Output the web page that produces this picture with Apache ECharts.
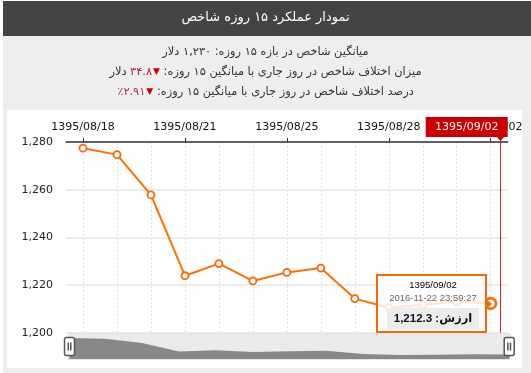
<!DOCTYPE html>
<html>
<head>
<meta charset="utf-8">
<script src="https://cdn.jsdelivr.net/npm/echarts@6.0.0/dist/echarts.min.js"></script>
<style>
  html, body { margin: 0; padding: 0; background: #fff; width: 531px; height: 373px; overflow: hidden; }
  .abs { position: absolute; }
</style>
</head>
<body>
<div class="abs" style="left:3px;top:1px;width:528px;height:372px;background:#eeeeee"></div>
<div class="abs" style="left:3px;top:1px;width:528px;height:35px;background:#444444"></div>
<div class="abs" style="left:7px;top:110px;width:515px;height:258px;background:#ffffff"></div>
<div id="chart" class="abs" style="left:0;top:0;width:531px;height:373px"></div>
<script>
// ---- data ----
const categories = ['1395/08/18','1395/08/19','1395/08/20','1395/08/21','1395/08/23','1395/08/24','1395/08/25','1395/08/26','1395/08/27','1395/08/28','1395/08/30','1395/09/01','1395/09/02'];
const values = [1277.4, 1274.7, 1257.8, 1223.9, 1229.0, 1221.7, 1225.3, 1227.1, 1214.3, 1210.5, 1211.7, 1213.0, 1212.3];
const yTicks = [1200, 1220, 1240, 1260, 1280];
const tooltipTime = '2016-11-22 23:59:27';
const titleText = 'نمودار عملکرد ۱۵ روزه شاخص';
const line1Text = 'میانگین شاخص در بازه ۱۵ روزه: ۱,۲۳۰ دلار';
const line2Label = 'میزان اختلاف شاخص در روز جاری با میانگین ۱۵ روزه:';
const line2Value = '۳۴.۸';
const line2Unit = 'دلار';
const line3Label = 'درصد اختلاف شاخص در روز جاری با میانگین ۱۵ روزه:';
const line3Value = '٪۲.۹۱';
const valueLabel = 'ارزش:';
const highlightIndex = 12;

const RLE = '\u202B', PDF = '\u202C';
const persianFont = 'DejaVu Sans';
const latinFont = 'DejaVu Sans';
const infoSize = 11.4;

const chart = echarts.init(document.getElementById('chart'), null, { renderer: 'canvas' });

function richStyles(valueColor) {
  return {
    a: { color: '#333333', fontFamily: persianFont, fontSize: infoSize, fontWeight: 'normal', lineHeight: 16 },
    r: { color: valueColor, fontFamily: persianFont, fontSize: infoSize, fontWeight: 'normal', lineHeight: 16 },
    t: { color: '#d00000', fontFamily: persianFont, fontSize: 9, fontWeight: 'normal', lineHeight: 16, padding: [0, 0, 0, 1] }
  };
}

const option = {
  animation: false,
  backgroundColor: 'transparent',
  title: [
    {
      text: RLE + titleText + PDF,
      left: 'center', top: 9, padding: 0,
      textStyle: { color: '#ffffff', fontFamily: persianFont, fontSize: 13, fontWeight: 'normal', lineHeight: 17 }
    },
    {
      text: RLE + line1Text + PDF,
      left: 'center', top: 44, padding: 0,
      textStyle: { color: '#333333', fontFamily: persianFont, fontSize: infoSize, fontWeight: 'normal', lineHeight: 16 }
    },
    {
      text: '{a|' + line2Unit + ' }{r|' + line2Value + '}{t|▼}{a| ' + RLE + line2Label + PDF + '}',
      left: 'center', top: 64, padding: 0,
      textStyle: { fontWeight: 'normal', fontFamily: persianFont, fontSize: infoSize, rich: richStyles('#c0143c') }
    },
    {
      text: '{r|' + line3Value + '}{t|▼}{a| ' + RLE + line3Label + PDF + '}',
      left: 'center', top: 84, padding: 0,
      textStyle: { fontWeight: 'normal', fontFamily: persianFont, fontSize: infoSize, rich: richStyles('#b03060') }
    }
  ],
  grid: { left: 66, right: 23.3, top: 142, bottom: 40.3, containLabel: false, outerBoundsMode: 'none' },
  xAxis: {
    type: 'category',
    position: 'top',
    data: categories,
    boundaryGap: true,
    axisLine: { show: true, lineStyle: { color: '#333333', width: 1.5 } },
    axisTick: { show: true, alignWithLabel: true, interval: 2, length: 4, lineStyle: { color: '#333333', width: 1 } },
    axisLabel: { interval: 2, color: '#111111', fontFamily: latinFont, fontSize: 11, margin: 9, hideOverlap: false },
    splitLine: { show: true, interval: 0, alignWithLabel: true, lineStyle: { type: [2, 2], color: '#e2e2e2', width: 1 } }
  },
  yAxis: {
    type: 'value',
    min: yTicks[0],
    max: yTicks[yTicks.length - 1],
    interval: yTicks[1] - yTicks[0],
    axisLine: { show: false },
    axisTick: { show: false },
    axisLabel: {
      color: '#222222', fontFamily: latinFont, fontSize: 11, margin: 13,
      formatter: v => v.toLocaleString('en-US')
    },
    splitLine: { show: true, lineStyle: { color: '#e6e6e6', width: 1.5 } }
  },
  dataZoom: [{
    type: 'slider',
    xAxisIndex: 0,
    start: 0, end: 100,
    left: 66, right: 23.3, bottom: 13, height: 27,
    showDetail: false,
    brushSelect: false,
    moveHandleSize: 0,
    backgroundColor: '#ebebeb',
    fillerColor: 'rgba(0,0,0,0)',
    borderColor: '#e4e4e4',
    borderRadius: 0,
    dataBackground: { lineStyle: { opacity: 0 }, areaStyle: { color: '#888888', opacity: 1 } },
    selectedDataBackground: { lineStyle: { opacity: 0 }, areaStyle: { color: '#888888', opacity: 1 } },
    handleIcon: 'path://M2,0H8Q10,0,10,2V16Q10,18,8,18H2Q0,18,0,16V2Q0,0,2,0Z M3.7,5V13 M6.3,5V13',
    handleSize: 18,
    handleStyle: { color: '#ffffff', borderColor: '#555555', borderWidth: 1.5 },
    emphasis: { handleStyle: { color: '#ffffff', borderColor: '#555555', borderWidth: 1.5 } }
  }],
  tooltip: {
    show: true,
    trigger: 'item',
    triggerOn: 'none',
    alwaysShowContent: true,
    transitionDuration: 0,
    backgroundColor: 'rgba(255,255,255,0.82)',
    borderColor: '#ff6600',
    borderWidth: 2,
    borderRadius: 0,
    padding: [2, 6, 2, 9],
    extraCssText: 'box-shadow:none;overflow:visible;',
    position: function (point, params, dom, rect, size) {
      return [point[0] - size.contentSize[0] - 4, point[1] - size.contentSize[1] / 2];
    },
    formatter: function (p) {
      const v = values[p.dataIndex].toLocaleString('en-US', { minimumFractionDigits: 1, maximumFractionDigits: 1 });
      return '<div style="font:9.5px \'Liberation Sans\';line-height:13px;text-align:center;color:#000">' + categories[p.dataIndex] + '</div>' +
        '<div style="font:9.5px \'Liberation Sans\';line-height:13px;text-align:center;color:#666">' + tooltipTime + '</div>' +
        '<div dir="rtl" style="width:92px;margin-top:4px;background:#ececec;padding:3px 0;text-align:center;font:bold 11.5px \'Liberation Sans\',\'DejaVu Sans\';line-height:15px;color:#111">' +
        valueLabel + ' <span dir="ltr">' + v + '</span></div>' +
        '<div style="position:absolute;right:-7px;top:50%;margin-top:-5px;width:0;height:0;border-top:5px solid transparent;border-bottom:5px solid transparent;border-left:6px solid #ff6600"></div>';
    }
  },
  series: [{
    type: 'line',
    data: values,
    symbol: 'circle',
    symbolSize: 7,
    showAllSymbol: true,
    lineStyle: { color: '#ff6600', width: 2 },
    itemStyle: { color: '#ffffff', borderColor: '#ff6600', borderWidth: 1.8 },
    emphasis: { scale: 1.5, itemStyle: { color: '#ffffff', borderColor: '#ff6600', borderWidth: 2.6 } },
    z: 3
  }]
};

chart.setOption(option);

// crosshair (drawn from the axis scales)
const px12 = chart.convertToPixel({ xAxisIndex: 0 }, categories[highlightIndex]);
const px11 = chart.convertToPixel({ xAxisIndex: 0 }, categories[highlightIndex - 1]);
const band = px12 - px11;
const crossX = Math.round(px12 + band * 0.26) + 0.5;
const yTop = chart.convertToPixel({ yAxisIndex: 0 }, yTicks[yTicks.length - 1]);
const yBot = chart.convertToPixel({ yAxisIndex: 0 }, yTicks[0]);
const plotRight = px12 + band / 2;
chart.setOption({
  graphic: [
    { type: 'line', z: 100, shape: { x1: crossX, y1: yTop - 5, x2: crossX, y2: yBot }, style: { stroke: '#e02020', lineWidth: 1 } },
    { type: 'rect', z: 100, shape: { x: plotRight - 82, y: yTop - 25, width: 82, height: 20 }, style: { fill: '#cc0000' } },
    { type: 'polygon', z: 100, shape: { points: [[crossX - 4, yTop - 5.5], [crossX + 4, yTop - 5.5], [crossX, yTop - 1]] }, style: { fill: '#cc0000' } },
    { type: 'text', z: 101, x: plotRight - 41, y: yTop - 15, style: { text: categories[highlightIndex], fill: '#ffffff', font: '11px "DejaVu Sans"', align: 'center', verticalAlign: 'middle' } }
  ]
});

chart.dispatchAction({ type: 'highlight', seriesIndex: 0, dataIndex: highlightIndex });
chart.dispatchAction({ type: 'showTip', seriesIndex: 0, dataIndex: highlightIndex });
</script>
</body>
</html>
